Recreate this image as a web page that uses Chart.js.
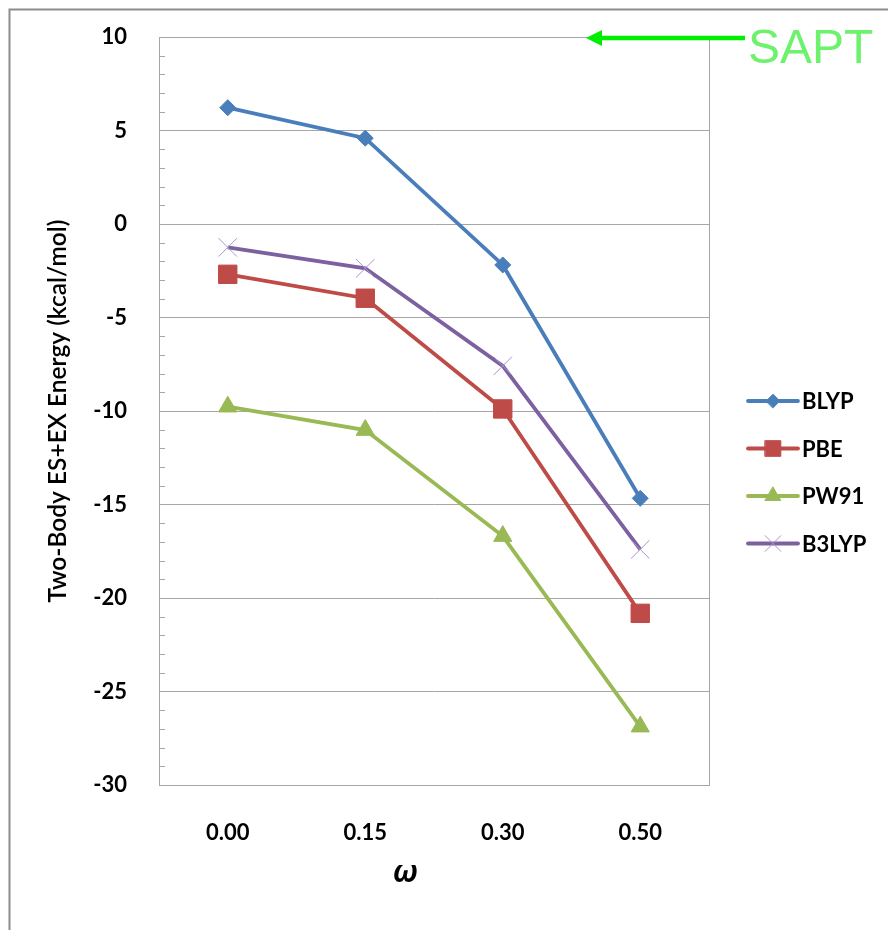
<!DOCTYPE html>
<html>
<head>
<meta charset="utf-8">
<title>Two-Body ES+EX Energy</title>
<script src="https://cdn.jsdelivr.net/npm/chart.js@4.4.1/dist/chart.umd.min.js"></script>
<style>
  html, body { margin: 0; padding: 0; background: #fff; }
  #wrap { width: 888px; height: 930px; }
</style>
</head>
<body>
<div id="wrap"><canvas id="energyChart" width="888" height="930"></canvas></div>
<script>
// x categories (omega)
const omegaLabels = ['0.00', '0.15', '0.30', '0.50'];
// series values, kcal/mol
const blyp  = [6.22, 4.59, -2.19, -14.67];
const pbe   = [-2.69, -3.97, -9.89, -20.82];
const pw91  = [-9.77, -11.02, -16.69, -26.88];
const b3lyp = [-1.25, -2.37, -7.59, -17.40];
// y axis tick labels
const yTicks = [10, 5, 0, -5, -10, -15, -20, -25, -30];
// SAPT reference value (the green arrow)
const saptValue = 10;

const GRID = '#a6a6a6';
const TICK_FONT = { family: 'Lato, "Open Sans", sans-serif', size: 22, weight: 'bold' };

function series(label, data, color, style, radius, pointBorder) {
  return {
    label: label,
    data: data,
    borderColor: color,
    backgroundColor: color,
    borderWidth: 3.8,
    tension: 0,
    fill: false,
    pointStyle: style,
    pointRadius: radius,
    pointHoverRadius: radius,
    pointBackgroundColor: color,
    pointBorderColor: pointBorder || color,
    pointBorderWidth: 1
  };
}

const datasets = [
  series('BLYP', blyp, '#4a7ebb', 'rectRot', 8),
  series('PBE', pbe, '#be4b48', 'rect', 13),
  series('PW91', pw91, '#98b954', 'triangle', 10.5),
  series('B3LYP', b3lyp, '#7d60a0', 'crossRot', 13, '#a995cc')
];

// white page, outer frame, plot border and minor ticks
const framePlugin = {
  id: 'frame',
  beforeDraw(chart) {
    const ctx = chart.ctx;
    ctx.save();
    ctx.fillStyle = '#fff';
    ctx.fillRect(0, 0, chart.width, chart.height);
    ctx.strokeStyle = '#8c8c8c';
    ctx.lineWidth = 2;
    ctx.beginPath();
    ctx.moveTo(9.5, chart.height);
    ctx.lineTo(9.5, 9.5);
    ctx.lineTo(chart.width, 9.5);
    ctx.stroke();
    ctx.restore();
  },
  afterDatasetsDraw(chart) {
    const ctx = chart.ctx;
    const a = chart.chartArea;
    const y = chart.scales.y;
    ctx.save();
    ctx.strokeStyle = GRID;
    ctx.lineWidth = 1;
    ctx.strokeRect(Math.round(a.left) + 0.5, Math.round(a.top) + 0.5,
      Math.round(a.right - a.left), Math.round(a.bottom - a.top));
    ctx.beginPath();
    for (let v = y.min; v <= y.max; v++) {
      if (v % 5 === 0) continue;
      const py = Math.round(y.getPixelForValue(v)) + 0.5;
      ctx.moveTo(a.left, py);
      ctx.lineTo(a.left + 6, py);
    }
    ctx.stroke();
    ctx.restore();
  },
  afterDraw(chart) {
    const ctx = chart.ctx;
    const a = chart.chartArea;
    const y = chart.scales.y;
    ctx.save();
    // omega axis title
    ctx.fillStyle = '#000';
    ctx.font = 'italic bold 30px "Noto Sans", sans-serif';
    ctx.textAlign = 'center';
    ctx.textBaseline = 'middle';
    ctx.fillText('ω', a.left + 246, a.bottom + 88);

    // legend: line + marker + label
    const H = Chart.helpers;
    chart.data.datasets.forEach((ds, i) => {
      const cy = 401 + i * 47.5;
      const x0 = a.right + 39;
      ctx.strokeStyle = ds.borderColor;
      ctx.lineWidth = 3.8;
      ctx.lineCap = 'round';
      ctx.beginPath();
      ctx.moveTo(x0, cy);
      ctx.lineTo(x0 + 50, cy);
      ctx.stroke();
      ctx.fillStyle = ds.pointBackgroundColor;
      ctx.strokeStyle = ds.pointBorderColor;
      ctx.lineWidth = 1;
      if (H && H.drawPoint) {
        H.drawPoint(ctx, { pointStyle: ds.pointStyle, radius: ds.pointRadius * 0.85, rotation: 0, borderWidth: 1 }, x0 + 25, cy);
      }
      ctx.fillStyle = '#000';
      ctx.font = 'bold 22px Lato, "Open Sans", sans-serif';
      ctx.textAlign = 'left';
      ctx.textBaseline = 'middle';
      ctx.fillText(ds.label, x0 + 54, cy + 1);
    });

    // SAPT arrow pointing at the top of the plot
    const sy = y.getPixelForValue(saptValue) + 1;
    const tip = a.left + 427;
    ctx.strokeStyle = '#00ee00';
    ctx.fillStyle = '#00ee00';
    ctx.lineWidth = 4.5;
    ctx.lineCap = 'butt';
    ctx.beginPath();
    ctx.moveTo(tip + 14, sy);
    ctx.lineTo(a.right + 36, sy);
    ctx.stroke();
    ctx.beginPath();
    ctx.moveTo(tip, sy);
    ctx.lineTo(tip + 16, sy - 8);
    ctx.lineTo(tip + 16, sy + 8);
    ctx.closePath();
    ctx.fill();
    ctx.fillStyle = '#6cf26c';
    ctx.font = '48px "Liberation Sans", Arial, sans-serif';
    ctx.textAlign = 'left';
    ctx.textBaseline = 'alphabetic';
    ctx.fillText('SAPT', a.right + 39, sy + 25);
    ctx.restore();
  }
};

const ctx = document.getElementById('energyChart').getContext('2d');
new Chart(ctx, {
  type: 'line',
  data: { labels: omegaLabels, datasets: datasets },
  options: {
    responsive: false,
    animation: false,
    devicePixelRatio: 1,
    layout: { padding: { left: 40, top: 37, right: 179, bottom: 45 } },
    plugins: {
      legend: { display: false },
      tooltip: { enabled: false }
    },
    scales: {
      x: {
        type: 'category',
        offset: true,
        grid: { display: false, drawTicks: false },
        border: { display: false },
        ticks: { font: TICK_FONT, color: '#000', padding: 35, maxRotation: 0, autoSkip: false },
        afterFit(scale) { scale.height = 100; }
      },
      y: {
        min: Math.min(...yTicks),
        max: Math.max(...yTicks),
        afterBuildTicks(scale) { scale.ticks = yTicks.map(v => ({ value: v })); },
        grid: { color: GRID, lineWidth: 1, drawTicks: true, tickLength: 28, tickColor: 'rgba(0,0,0,0)' },
        border: { display: true, color: GRID },
        ticks: { font: TICK_FONT, color: '#000', padding: 4 },
        title: {
          display: true,
          text: 'Two-Body ES+EX Energy (kcal/mol)',
          color: '#000',
          font: { family: 'Lato, "Open Sans", sans-serif', size: 24.5, weight: '600' },
          padding: { top: 3 }
        },
        afterFit(scale) { scale.width = 119; }
      }
    }
  },
  plugins: [framePlugin]
});
</script>
</body>
</html>
